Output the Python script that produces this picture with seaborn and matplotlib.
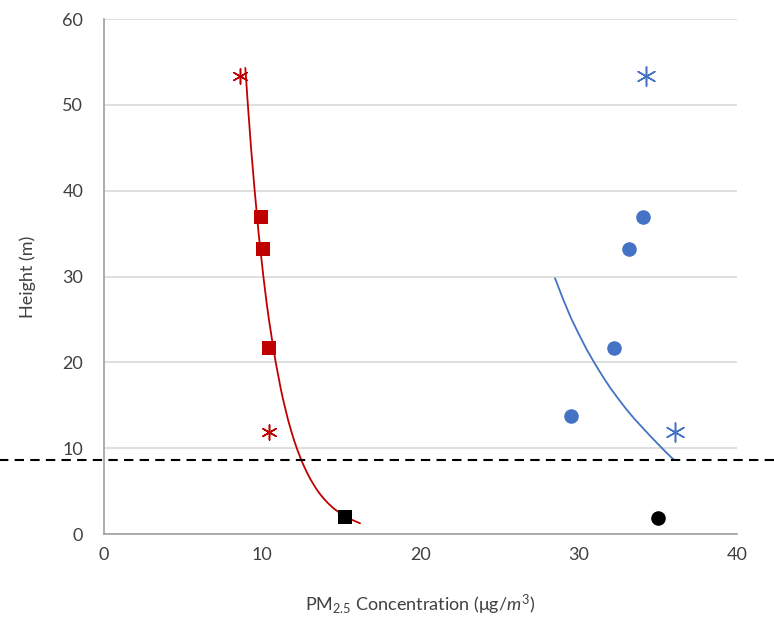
import numpy as np
import pandas as pd
import matplotlib
matplotlib.use("Agg")
import matplotlib.pyplot as plt
import seaborn as sns

# --- values ---
# red site: measured points
red_sq_x = [9.9, 10.05, 10.4]
red_sq_y = [36.9, 33.2, 21.7]
red_star_x = [8.6, 10.4]
red_star_y = [53.4, 11.9]
red_ground_x = [15.2]
red_ground_y = [2.0]

# blue site: measured points
blue_dot_x = [34.05, 33.2, 32.2, 29.5]
blue_dot_y = [36.9, 33.2, 21.7, 13.7]
blue_star_x = [34.25, 36.1]
blue_star_y = [53.4, 11.9]
blue_ground_x = [35.0]
blue_ground_y = [1.9]

# fitted trend lines
red_fit_x = [8.93, 9.09, 9.29, 9.52, 9.77, 10.07, 10.27, 10.42, 10.67, 10.85, 11.16,
             11.3, 11.43, 11.63, 11.83, 12.03, 12.22, 12.47, 12.66, 12.87, 13.04,
             13.2, 13.4, 13.63, 13.85, 14.15, 14.5, 14.93, 15.28, 15.48, 16.18]
red_fit_y = [54.3, 50.0, 45.0, 40.0, 35.0, 30.0, 27.0, 25.0, 22.0, 20.0, 17.0,
             15.8, 14.8, 13.3, 12.0, 10.8, 9.8, 8.6, 7.8, 7.0, 6.4,
             5.9, 5.3, 4.7, 4.2, 3.6, 3.0, 2.4, 2.0, 1.8, 1.25]
blue_fit_x = [28.5, 29.0, 29.5, 30.0, 30.5, 31.0, 31.5, 32.0, 32.5, 33.0,
              33.5, 34.0, 34.5, 35.0, 35.5, 35.98]
blue_fit_y = [29.8, 27.4, 25.2, 23.3, 21.5, 19.9, 18.4, 17.0, 15.75, 14.55,
              13.45, 12.45, 11.45, 10.5, 9.55, 8.7]

cutoff_height = 8.6

red = "#C00000"
blue = "#4472C4"
text_grey = "#404040"

sns.set_style("white")
plt.rcParams["font.family"] = ["Lato", "DejaVu Sans"]
plt.rcParams["mathtext.fontset"] = "custom"
plt.rcParams["mathtext.rm"] = "Lato"
plt.rcParams["mathtext.it"] = "Lato:italic"

fig = plt.figure(figsize=(7.74, 6.17), dpi=100)
ax = fig.add_axes([0.1344, 0.1345, 0.8178, 0.8347])

# trend lines
sns.lineplot(x=red_fit_x, y=red_fit_y, sort=False, color=red, lw=1.3, ax=ax)
sns.lineplot(x=blue_fit_x, y=blue_fit_y, sort=False, color=blue, lw=1.3, ax=ax)

# markers
sns.scatterplot(x=red_sq_x, y=red_sq_y, marker="s", s=110, color=red,
                edgecolor=red, linewidth=0, ax=ax, zorder=3)
sns.scatterplot(x=red_star_x, y=red_star_y, marker=(6, 2, 0), s=120, color=red,
                linewidth=1.1, ax=ax, zorder=3)
sns.scatterplot(x=red_ground_x, y=red_ground_y, marker="s", s=110, color="black",
                edgecolor="black", linewidth=0, ax=ax, zorder=3)
sns.scatterplot(x=blue_dot_x, y=blue_dot_y, marker="o", s=110, color=blue,
                edgecolor=blue, linewidth=0, ax=ax, zorder=3)
sns.scatterplot(x=blue_star_x, y=blue_star_y, marker=(6, 2, 0), s=190, color=blue,
                linewidth=1.1, ax=ax, zorder=3)
sns.scatterplot(x=blue_ground_x, y=blue_ground_y, marker="o", s=110, color="black",
                edgecolor="black", linewidth=0, ax=ax, zorder=3)

# dashed cutoff line across the whole figure
ax.axhline(cutoff_height, xmin=-0.17, xmax=1.06, color="black", ls=(0, (4.5, 3)),
           lw=1.5, clip_on=False, zorder=4)

ax.set_xlim(0, 40)
ax.set_ylim(0, 60)
ax.set_xticks([0, 10, 20, 30, 40])
ax.set_yticks([0, 10, 20, 30, 40, 50, 60])
ax.yaxis.grid(True, color="#D9D9D9", lw=1.2)
ax.xaxis.grid(False)
ax.set_axisbelow(True)
for side in ["top", "right"]:
    ax.spines[side].set_visible(False)
for side in ["left", "bottom"]:
    ax.spines[side].set_color("#A0A0A0")
    ax.spines[side].set_linewidth(1.2)
ax.tick_params(axis="both", direction="out", length=5, width=1.2, color="#A0A0A0",
               labelsize=13, labelcolor=text_grey)
ax.tick_params(axis="y", pad=10)
ax.tick_params(axis="x", pad=4)

ax.set_xlabel(r"PM$_{2.5}$ Concentration (μg/$m^3$)", fontsize=13, color=text_grey,
              labelpad=22)
ax.set_ylabel("Height (m)", fontsize=13, color=text_grey, labelpad=19)

fig.savefig("out.png", dpi=100)
